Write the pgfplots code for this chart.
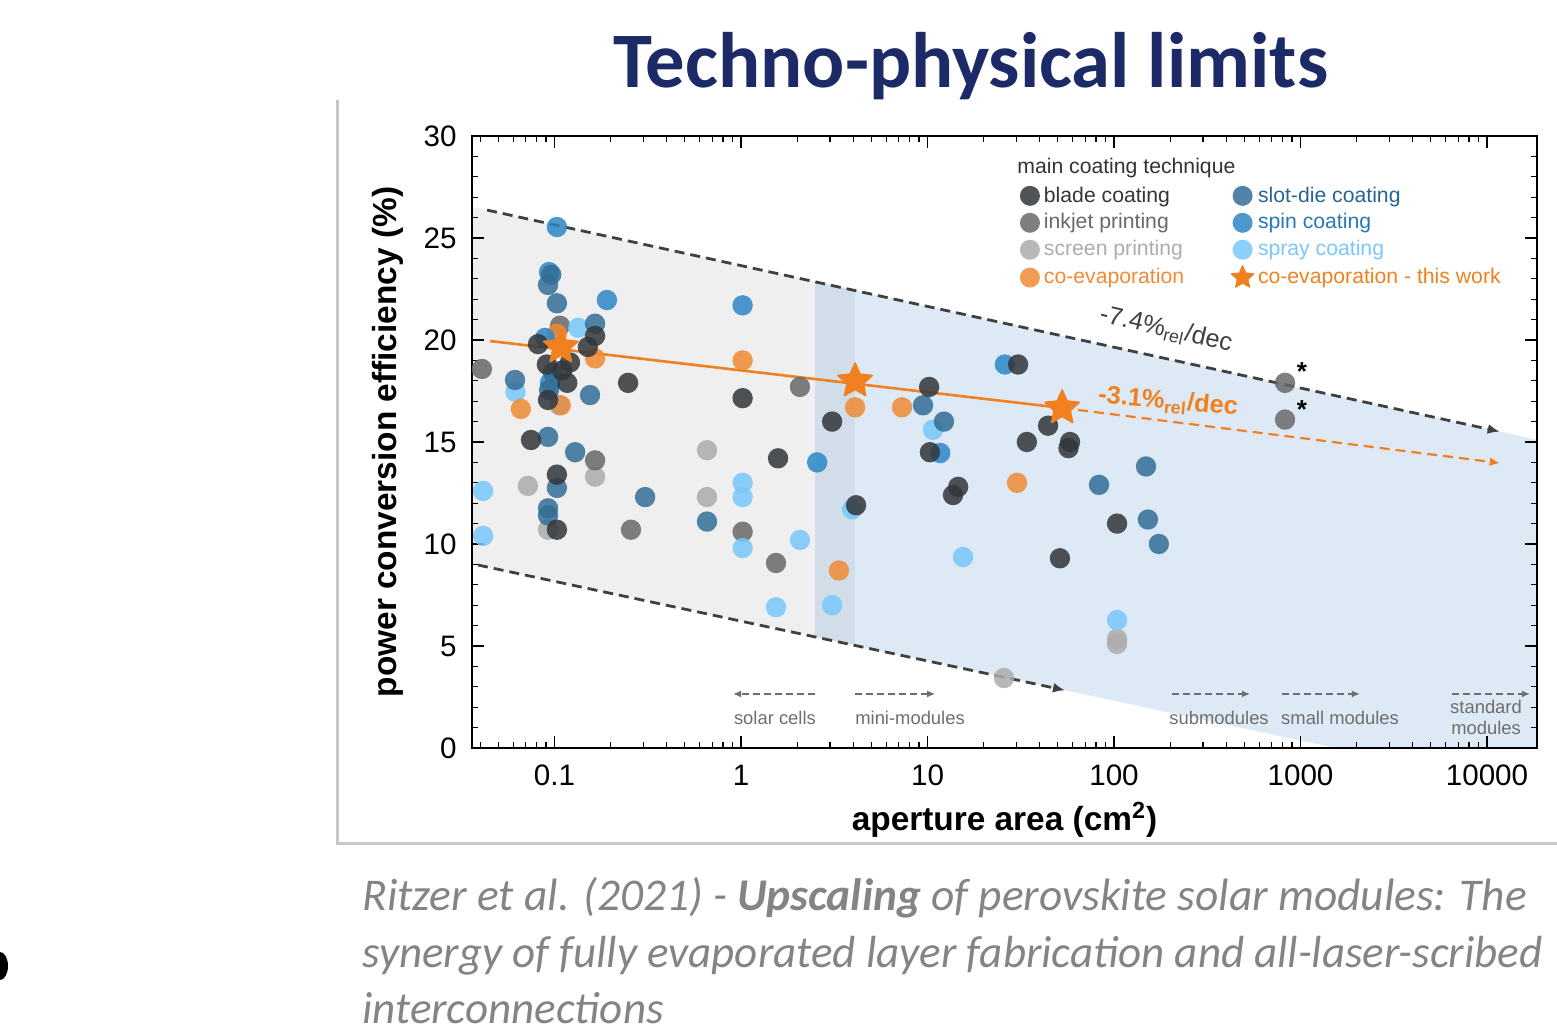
\documentclass[border=0pt]{standalone}
\usepackage{fontspec}
\setmainfont{Liberation Sans}
\newfontfamily\carlito{Carlito}
\usepackage{pgfplots}
\pgfplotsset{compat=1.18}
\usetikzlibrary{arrows.meta}

\definecolor{cBlade}{RGB}{50,54,58}
\definecolor{cInk}{RGB}{105,105,105}
\definecolor{cScreen}{RGB}{172,172,172}
\definecolor{cCoev}{RGB}{240,138,52}
\definecolor{cSlot}{RGB}{50,110,150}
\definecolor{cSpin}{RGB}{45,135,200}
\definecolor{cSpray}{RGB}{120,200,250}
\definecolor{cStar}{RGB}{240,128,32}
\definecolor{tSlot}{RGB}{40,100,145}
\definecolor{tSpin}{RGB}{40,120,185}
\definecolor{bgGray}{RGB}{239,239,239}
\definecolor{bgBand}{RGB}{209,221,232}
\definecolor{bgBlue}{RGB}{221,233,245}
\definecolor{titleBlue}{RGB}{28,42,104}
\definecolor{capGray}{RGB}{132,132,132}
\definecolor{labGray}{RGB}{110,110,110}
\definecolor{lineGray}{RGB}{64,64,64}

% filled five-pointed star
\pgfdeclareplotmark{fstar}{%
  \pgfpathmoveto{\pgfpointpolar{90}{\pgfplotmarksize}}%
  \pgfpathlineto{\pgfpointpolar{126}{0.47\pgfplotmarksize}}%
  \pgfpathlineto{\pgfpointpolar{162}{\pgfplotmarksize}}%
  \pgfpathlineto{\pgfpointpolar{198}{0.47\pgfplotmarksize}}%
  \pgfpathlineto{\pgfpointpolar{234}{\pgfplotmarksize}}%
  \pgfpathlineto{\pgfpointpolar{270}{0.47\pgfplotmarksize}}%
  \pgfpathlineto{\pgfpointpolar{306}{\pgfplotmarksize}}%
  \pgfpathlineto{\pgfpointpolar{342}{0.47\pgfplotmarksize}}%
  \pgfpathlineto{\pgfpointpolar{18}{\pgfplotmarksize}}%
  \pgfpathlineto{\pgfpointpolar{54}{0.47\pgfplotmarksize}}%
  \pgfpathclose
  \pgfusepathqfillstroke}

\pgfplotsset{
  dot/.style={only marks, mark=*, mark size=5.1pt, color=#1,
    mark options={fill=#1, draw opacity=0, fill opacity=0.85}, forget plot},
  ldot/.style={only marks, mark=*, mark size=5pt, color=#1,
    mark options={fill=#1, draw opacity=0, fill opacity=0.85}},
}

\begin{document}
\begin{tikzpicture}
\begin{axis}[
  at={(0pt,0pt)}, anchor=south west,
  scale only axis, width=532.5pt, height=306pt,
  xmode=log, xmin=0.0361, xmax=18540, ymin=0, ymax=30,
  axis on top,
  xtick={0.1,1,10,100,1000,10000},
  xticklabels={0.1,1,10,100,1000,10000},
  minor xtick={0.04,0.05,0.06,0.07,0.08,0.09,0.2,0.3,0.4,0.5,0.6,0.7,0.8,0.9,2,3,4,5,6,7,8,9,20,30,40,50,60,70,80,90,200,300,400,500,600,700,800,900,2000,3000,4000,5000,6000,7000,8000,9000},
  ytick={0,5,10,15,20,25,30},
  yticklabels={0,5,10,15,20,25,30},
  minor y tick num=4,
  tick align=inside,
  major tick length=6pt, minor tick length=3pt,
  every tick/.style={black, line width=0.6pt},
  axis line style={line width=0.8pt},
  ticklabel style={font=\fontsize{14.8}{17}\selectfont},
  xticklabel style={anchor=center, yshift=-13.5pt},
  yticklabel style={anchor=east, inner sep=0pt, xshift=-7.5pt},
  xlabel={aperture area (cm\textsuperscript{2})},
  ylabel={power conversion efficiency (\%)},
  label style={font=\bfseries\fontsize{16.7}{20}\selectfont},
  xlabel style={at={(axis description cs:0.5,-0.1176)}, anchor=center},
  ylabel style={at={(axis description cs:-0.0789,0.5)}, anchor=center},
  legend columns=2,
  legend cell align=left,
  legend style={at={(axis description cs:0.5145,0.9205)}, anchor=north west,
    draw=none, fill=none, inner sep=0pt, outer sep=0pt,
    font=\fontsize{10.6}{12.7}\selectfont, row sep=2.3pt,
    nodes={inner xsep=2pt, inner ysep=1pt}},
  legend image code/.code={\draw[mark repeat=2,mark phase=2,#1] plot coordinates {(0pt,0pt) (5pt,0pt) (10pt,0pt)};},
  /tikz/every even column/.append style={column sep=21.5pt},
]

% shaded regions
\addplot[draw=none, fill=bgGray, forget plot] coordinates {(0.0361,9.03) (2.495,5.45) (2.495,22.86) (0.0361,26.53)} -- cycle;
\addplot[draw=none, fill=bgBand, forget plot] coordinates {(2.495,5.45) (4.08,5.03) (4.08,22.43) (2.495,22.86)} -- cycle;
\addplot[draw=none, fill=bgBlue, forget plot] coordinates {(4.08,5.03) (1549,0) (18540,0) (18540,15.11) (4.08,22.43)} -- cycle;

% limit lines
\addplot[lineGray, line width=1.4pt, dash pattern=on 5pt off 3pt, -{Latex[length=6pt,width=5pt]}, forget plot] coordinates {(0.0435,26.37) (11700,15.51)};
\addplot[lineGray, line width=1.4pt, dash pattern=on 5pt off 3pt, -{Latex[length=6pt,width=5pt]}, forget plot] coordinates {(0.0389,8.97) (54.6,2.83)};

% co-evaporation trend
\addplot[cStar, line width=1.3pt, forget plot] coordinates {(0.0451,19.95) (52.7,16.67)};
\addplot[cStar, line width=1.1pt, dash pattern=on 5pt off 3pt, -{Latex[length=5pt,width=4.5pt]}, forget plot] coordinates {(52.7,16.67) (11700,13.97)};

% size-range arrows
\addplot[labGray, line width=0.8pt, dash pattern=on 3.5pt off 2pt, -{Latex[length=4pt,width=3.5pt]}, forget plot] coordinates {(2.5,2.65) (0.906,2.65)};
\addplot[labGray, line width=0.8pt, dash pattern=on 3.5pt off 2pt, -{Latex[length=4pt,width=3.5pt]}, forget plot] coordinates {(4.08,2.65) (11.0,2.65)};
\addplot[labGray, line width=0.8pt, dash pattern=on 3.5pt off 2pt, -{Latex[length=4pt,width=3.5pt]}, forget plot] coordinates {(205,2.65) (536,2.65)};
\addplot[labGray, line width=0.8pt, dash pattern=on 3.5pt off 2pt, -{Latex[length=4pt,width=3.5pt]}, forget plot] coordinates {(795,2.65) (2084,2.65)};
\addplot[labGray, line width=0.8pt, dash pattern=on 3.5pt off 2pt, -{Latex[length=4pt,width=3.5pt]}, forget plot] coordinates {(6490,2.65) (17000,2.65)};

% data: screen printing
\addplot[dot=cScreen] coordinates {
(0.165,13.3) (0.072,12.85) (0.0923,10.7) (0.657,14.6) (0.657,12.3)
(103.8,5.35) (103.8,5.1) (25.7,3.43)};
% inkjet printing
\addplot[dot=cInk] coordinates {
(0.0408,18.58) (0.165,14.1) (0.257,10.7) (0.107,20.7) (2.07,17.7)
(1.02,10.6) (1.54,9.07) (826,17.9) (826,16.1)};
% spray coating
\addplot[dot=cSpray] coordinates {
(0.0414,12.6) (0.0414,10.4) (0.0618,17.45) (0.134,20.6) (0.106,16.8)
(10.7,15.6) (1.02,13.0) (1.02,12.3) (1.02,9.8) (2.07,10.2) (3.94,11.7)
(1.54,6.9) (3.08,7.0) (15.5,9.36) (103.8,6.27)};
% co-evaporation
\addplot[dot=cCoev] coordinates {
(0.066,16.62) (0.103,20.3) (0.165,19.1) (0.108,16.8) (1.02,19.0)
(4.09,16.7) (7.3,16.7) (3.35,8.7) (30.2,13.0)};
% spin coating
\addplot[dot=cSpin] coordinates {
(0.103,25.54) (0.0934,23.33) (0.191,21.96) (0.089,20.1) (0.0946,17.9)
(1.02,21.7) (11.7,14.46) (2.56,14.0) (26.0,18.8)};
% slot-die coating
\addplot[dot=cSlot] coordinates {
(0.0614,18.04) (0.0923,15.25) (0.129,14.5) (0.103,12.75) (0.0923,11.75)
(0.0923,11.4) (0.306,12.3) (0.096,23.2) (0.0923,22.7) (0.103,21.8)
(0.165,20.8) (0.098,18.4) (0.0935,17.55) (0.155,17.3) (0.657,11.1)
(9.46,16.8) (12.25,16.0) (83.1,12.9) (148.5,13.8) (152,11.2) (174,10.0)};
% blade coating
\addplot[dot=cBlade] coordinates {
(0.0748,15.1) (0.103,13.4) (0.103,10.7) (0.248,17.9) (0.165,20.2)
(0.0816,19.8) (0.151,19.66) (0.091,18.8) (0.110,18.5) (0.121,18.9)
(0.117,17.9) (0.0923,17.06) (1.02,17.15) (10.2,17.7) (10.3,14.5)
(3.08,16.0) (1.58,14.2) (4.14,11.9) (13.7,12.4) (14.6,12.8) (30.6,18.8)
(34.1,15.0) (44.3,15.8) (58.1,15.0) (57.0,14.7) (51.3,9.3) (103.8,11.0)};
% this work
\addplot[only marks, mark=fstar, mark size=9pt, color=cStar, mark options={fill=cStar, draw=cStar, line width=0.8pt, line join=round}, forget plot] coordinates {
(0.108,19.66) (4.09,17.99) (52.7,16.67)};

% legend
\addlegendimage{ldot=cBlade}
\addlegendimage{ldot=cSlot}
\addlegendimage{ldot=cInk}
\addlegendimage{ldot=cSpin}
\addlegendimage{ldot=cScreen}
\addlegendimage{ldot=cSpray}
\addlegendimage{ldot=cCoev}
\addlegendimage{only marks, mark=fstar, mark size=6pt, color=cStar, mark options={fill=cStar, draw=cStar, line width=0.5pt, line join=round}}
\legend{\textcolor{cBlade}{blade coating}, \textcolor{tSlot}{slot-die coating},
  \textcolor{cInk}{inkjet printing}, \textcolor{tSpin}{spin coating},
  \textcolor{cScreen}{screen printing}, \textcolor{cSpray}{spray coating},
  \textcolor{cCoev}{co-evaporation}, \textcolor{cStar}{co-evaporation - this work}}

\node[anchor=west, inner sep=0pt, font=\fontsize{10.6}{12.7}\selectfont, text=black!80] at (axis description cs:0.5117,0.9477) {main coating technique};

% annotations
\node[rotate=-13, text=lineGray, font=\fontsize{12.7}{15}\selectfont] at (axis cs:190,20.5) {-7.4\%\textsubscript{rel}/dec};
\node[rotate=-5, text=cStar, font=\bfseries\fontsize{12.7}{15}\selectfont] at (axis cs:195,16.96) {-3.1\%\textsubscript{rel}/dec};
\node[font=\bfseries\fontsize{13}{15}\selectfont] at (axis cs:1019,18.43) {*};
\node[font=\bfseries\fontsize{13}{15}\selectfont] at (axis cs:1019,16.57) {*};

\node[text=labGray, font=\fontsize{9.2}{11}\selectfont] at (axis cs:1.52,1.47) {solar cells};
\node[text=labGray, font=\fontsize{9.2}{11}\selectfont] at (axis cs:8.06,1.47) {mini-modules};
\node[text=labGray, font=\fontsize{9.2}{11}\selectfont] at (axis cs:366,1.47) {submodules};
\node[text=labGray, font=\fontsize{9.2}{11}\selectfont] at (axis cs:1629,1.47) {small modules};
\node[text=labGray, align=center, font=\fontsize{9.2}{10.5}\selectfont] at (axis cs:9880,1.5) {standard\\modules};
\end{axis}

\begin{scope}[shift={(-236pt,374pt)}, x=0.5pt, y=-0.5pt]
  \draw[black!22, line width=1.5pt] (338,100) -- (338,843) -- (1557,843);
  \node[anchor=base, inner sep=0pt, text=titleBlue, font=\carlito\bfseries\fontsize{39.3}{47}\selectfont] at (971,88) {Techno-physical limits};
  \node[anchor=base west, inner sep=0pt, text=capGray, font=\carlito\itshape\fontsize{22.7}{28}\selectfont] at (362,910) {Ritzer et al. (2021) - \textbf{Upscaling} of perovskite solar modules: The};
  \node[anchor=base west, inner sep=0pt, text=capGray, font=\carlito\itshape\fontsize{22.5}{28}\selectfont] at (362,967) {synergy of fully evaporated layer fabrication and all-laser-scribed};
  \node[anchor=base west, inner sep=0pt, text=capGray, font=\carlito\itshape\fontsize{22.5}{28}\selectfont] at (362,1023) {interconnections};
  \fill[black] (0,966) ellipse [x radius=4pt, y radius=7pt];
  \pgfresetboundingbox
  \path[use as bounding box] (0,0) rectangle (1557,1034);
\end{scope}
\end{tikzpicture}
\end{document}
